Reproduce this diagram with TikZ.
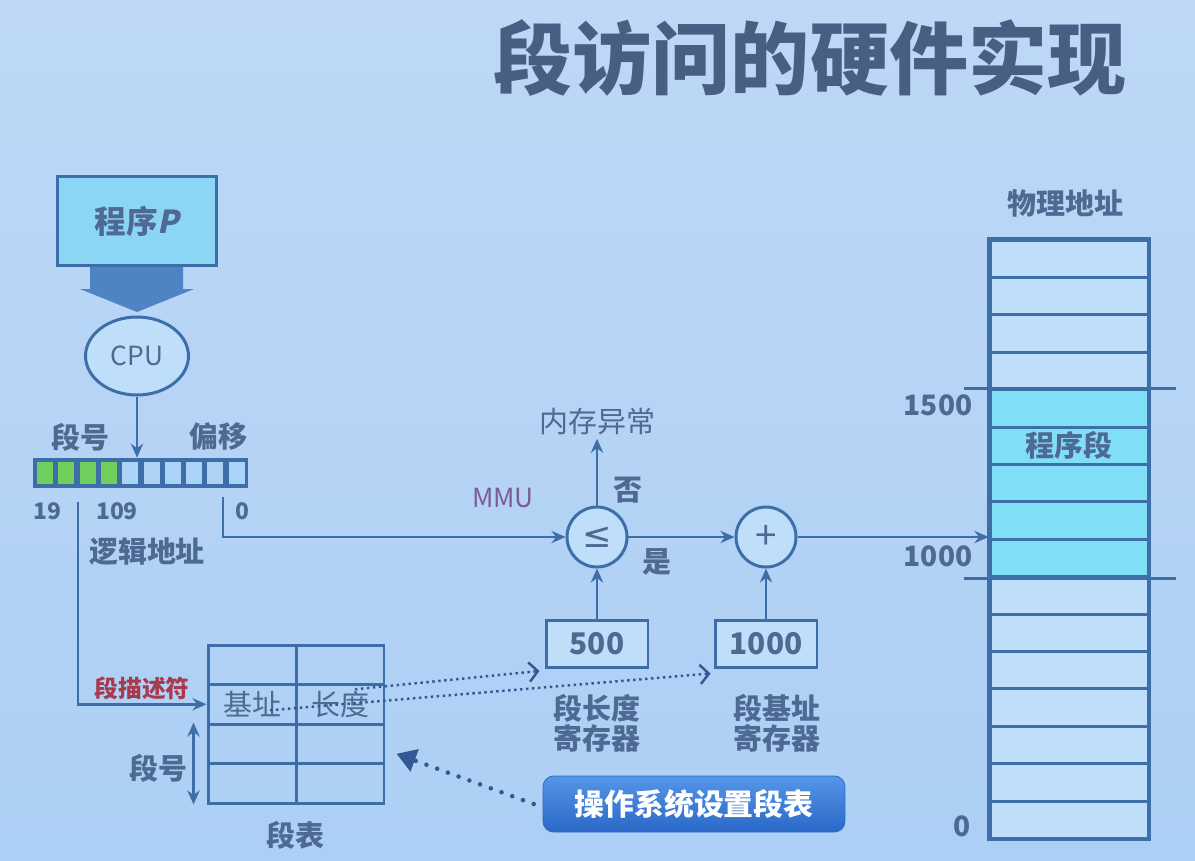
\documentclass[tikz,border=0pt]{standalone}
\usepackage{fontspec}
\setmainfont{Noto Sans CJK SC}
\newfontfamily\slantfont{Noto Sans CJK SC}[FakeSlant=0.2]
\newfontfamily\symfont{DejaVu Sans}
\usetikzlibrary{arrows.meta,shapes.geometric,positioning}

\definecolor{bgtop}{RGB}{190,216,246}
\definecolor{bgbot}{RGB}{172,207,245}
\definecolor{ln}{RGB}{62,110,168}
\definecolor{tx}{RGB}{78,106,146}
\definecolor{prog}{RGB}{140,214,245}
\definecolor{bigarrow}{RGB}{78,132,196}
\definecolor{bitgreen}{RGB}{112,206,92}
\definecolor{bitblue}{RGB}{172,210,245}
\definecolor{cellfill}{RGB}{190,222,250}
\definecolor{progrow}{RGB}{128,222,246}
\definecolor{mmucol}{RGB}{122,92,152}
\definecolor{desccol}{RGB}{168,58,78}
\definecolor{btntop}{RGB}{84,150,232}
\definecolor{btnbot}{RGB}{42,104,200}
\definecolor{dotcol}{RGB}{52,88,148}

\begin{document}
\begin{tikzpicture}[x=0.02cm,y=-0.02cm,>={Stealth[length=8pt,width=7pt]},
    wire/.style={draw=ln,line width=1.5pt,->},
    frame/.style={draw=ln,line width=1.7pt},
    lbl/.style={text=tx,inner sep=0pt,font=\fontsize{16.5}{18}\selectfont\bfseries},
    small/.style={text=tx,inner sep=0pt,font=\fontsize{13}{15}\selectfont\bfseries},
    regbox/.style={frame,fill=cellfill,minimum width=2.04cm,minimum height=0.94cm,
        text=tx,font=\fontsize{17}{19}\selectfont\bfseries},
    opcircle/.style={frame,circle,fill=cellfill,minimum size=1.2cm,inner sep=0pt,
        text=tx,font=\fontsize{22}{24}\selectfont},
    tcell/.style={frame,minimum width=1.76cm,minimum height=0.79cm,inner sep=0pt,
        text=tx,font=\fontsize{16.5}{18}\selectfont},
    memrow/.style={frame,minimum width=3.16cm,minimum height=0.748cm,inner sep=0pt},
    dotline/.style={dotcol,line width=1.4pt,dash pattern=on 1.4pt off 2pt,
        -{Straight Barb[length=5pt,width=11pt]}}]

    \useasboundingbox (0,0) rectangle (1195,860);
    \shade[top color=bgtop,bottom color=bgbot] (0,0) rectangle (1195,860);

    \node[text=tx!90!black,font=\fontsize{45}{50}\selectfont\bfseries] (title) at (810,58) {段访问的硬件实现};

    \node[frame,fill=prog,minimum width=3.2cm,minimum height=1.78cm,text=tx,
        font=\fontsize{18}{20}\selectfont\bfseries] (prog) at (137,221) {程序{\slantfont P}};
    \fill[bigarrow] (90,267) -- (183,267) -- (183,289) -- (194,289) -- (137,312)
        -- (80,289) -- (90,289) -- cycle;
    \node[frame,ellipse,fill=cellfill,minimum width=2.06cm,minimum height=1.56cm,
        text=tx,font=\fontsize{15}{17}\selectfont] (cpu) at (137,356) {CPU};

    \node[fill=ln,minimum width=4.3cm,minimum height=0.6cm,inner sep=0pt] (reg) at (140.5,473) {};
    \foreach \i in {0,...,3}
        \fill[bitgreen] (37+\i*21.3,462) rectangle (53+\i*21.3,484);
    \foreach \i in {4,...,9}
        \fill[bitblue] (37+\i*21.3,462) rectangle (53+\i*21.3,484);
    \draw[wire] (cpu.south) -- (cpu.south |- reg.north);

    \node[lbl] (segno) at (80,437) {段号};
    \node[lbl] (offset) at (218,437) {偏移};
    \node[small] (b19) at (47,511) {19};
    \node[small] (b109) at (117,511) {109};
    \node[small] (b0) at (242,511) {0};
    \node[lbl] (logic) at (147,552) {逻辑地址};

    % MMU
    \node[opcircle,font=\fontsize{20}{22}\selectfont\symfont] (cmp) at (597,537) {≤};
    \node[opcircle] (plus) at (766,537) {+};
    \node[regbox] (len) at (597,643.5) {500};
    \node[regbox] (base) at (766,643.5) {1000};
    \node[lbl,font=\fontsize{16.5}{18}\selectfont] (exc) at (597,421) {内存异常};
    \node[text=mmucol,inner sep=0pt,font=\fontsize{15}{17}\selectfont] (mmu) at (503,498) {MMU};
    \node[lbl] (no) at (628,490) {否};
    \node[lbl] (yes) at (657,562) {是};
    \node[lbl,align=center,font=\fontsize{16.5}{15.5}\selectfont\bfseries] (lenlbl) at (597,723) {段长度\\寄存器};
    \node[lbl,align=center,font=\fontsize{16.5}{15.5}\selectfont\bfseries] (baselbl) at (777,723) {段基址\\寄存器};

    \coordinate (offtap) at (223,497);
    \coordinate (segtap) at (78,502);
    \draw[wire] (offtap) |- (cmp.west);
    \draw[wire] (cmp.north) -- ([yshift=-0.08cm]exc.south);
    \draw[wire] (cmp.east) -- (plus.west);
    \draw[wire] (len.north) -- (cmp.south);
    \draw[wire] (base.north) -- (plus.south);

    % segment table
    \foreach \r in {1,...,4}
        \foreach \c in {1,2}
            \node[tcell] (t\r\c) at (164+\c*88,{625.25+\r*39.5}) {};
    \node[lbl,font=\fontsize{16.5}{18}\selectfont] (basefield) at (t21) {基址};
    \node[lbl,font=\fontsize{16.5}{18}\selectfont] (lenfield) at (t22) {长度};
    \node[text=desccol,inner sep=0pt,font=\fontsize{13.5}{15}\selectfont\bfseries] (desc) at (142,688) {段描述符};
    \node[lbl] (tabno) at (158,768) {段号};
    \node[lbl] (tabname) at (295,835) {段表};
    \draw[wire] (segtap) |- (t21.west);
    \draw[wire,<->] ([xshift=-0.26cm]t31.north west) -- ([xshift=-0.26cm]t41.south west);

    \draw[dotline] ([xshift=0.3cm,yshift=0.3cm]t22.center) -- ([xshift=-0.1cm,yshift=-0.05cm]len.south west);
    \draw[dotline] ([xshift=-0.55cm,yshift=-0.12cm]t21.east) -- ([xshift=-0.06cm,yshift=-0.1cm]base.south west);

    \node[rounded corners=6pt,top color=btntop,bottom color=btnbot,draw=btnbot,
        minimum width=6.04cm,minimum height=1.12cm,text=white,
        font=\fontsize{17}{19}\selectfont\bfseries] (btn) at (694,804) {操作系统设置段表};
    \draw[dotcol,line width=2.6pt,line cap=round,dash pattern=on 0pt off 6.5pt,
        -{Triangle[length=11pt,width=13pt]}] ([xshift=-0.18cm]btn.west) -- ([xshift=0.22cm,yshift=-0.2cm]t32.east);

    % physical memory
    \node[lbl] (phys) at (1065,203) {物理地址};
    \foreach \i in {1,...,4,10,11,...,16}
        \node[memrow,fill=cellfill] (mem\i) at (1069,{240+(\i-0.5)*37.4}) {};
    \foreach \i in {5,...,9}
        \node[memrow,fill=progrow] (mem\i) at (1069,{240+(\i-0.5)*37.4}) {};
    \draw[frame] (mem1.north west) rectangle (mem16.south east);
    \draw[frame] ([xshift=-0.5cm]mem5.north west) -- ([xshift=0.54cm]mem5.north east);
    \draw[frame] ([xshift=-0.5cm]mem9.south west) -- ([xshift=0.54cm]mem9.south east);
    \node[lbl] (progseg) at (mem6) {程序段};
    \node[small,font=\fontsize{16}{18}\selectfont\bfseries] (a1500) at (938,405) {1500};
    \node[small,font=\fontsize{16}{18}\selectfont\bfseries] (a1000) at (938,556) {1000};
    \node[small,font=\fontsize{16}{18}\selectfont\bfseries] (a0) at (962,826) {0};
    \draw[wire] (plus.east) -- (plus.east -| mem8.west);
\end{tikzpicture}
\end{document}
